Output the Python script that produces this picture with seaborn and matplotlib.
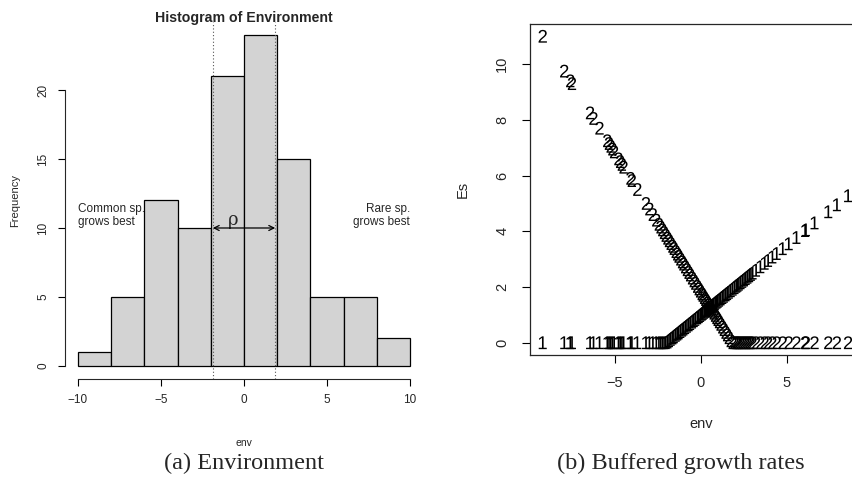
import numpy as np
import pandas as pd
import matplotlib
matplotlib.use("Agg")
import matplotlib.pyplot as plt
import seaborn as sns

# ---- data ----
env = [-9.2,
       -7.95, -7.6, -7.5, -6.45, -6.25,
       -5.9, -5.45, -5.35, -5.25, -5.15, -5.05, -4.8, -4.7, -4.6, -4.5, -4.1, -4.02,
       -3.7, -3.2, -3.0, -2.8, -2.6, -2.45, -2.35, -2.25, -2.15, -2.05,
       -1.95, -1.86, -1.76, -1.66, -1.58, -1.47, -1.38, -1.3, -1.2, -1.1, -1.02,
       -0.92, -0.82, -0.72, -0.63, -0.52, -0.42, -0.33, -0.22, -0.13, -0.05,
       0.04, 0.1, 0.18, 0.25, 0.31, 0.38, 0.45, 0.52, 0.6, 0.67, 0.74, 0.82,
       0.9, 0.97, 1.05, 1.14, 1.24, 1.33, 1.43, 1.52, 1.62, 1.73, 1.84, 1.95,
       2.05, 2.12, 2.2, 2.3, 2.4, 2.5, 2.6, 2.7, 2.8, 2.9, 3.0, 3.2, 3.45, 3.7, 3.9,
       4.15, 4.4, 4.75, 5.1, 5.55,
       6.05, 6.1, 6.6, 7.4, 7.9,
       8.55, 9.3]

es_sp1 = [0.0,
          0.0, 0.0, 0.0, 0.0, 0.0,
          0.0, 0.0, 0.0, 0.0, 0.0, 0.0, 0.0, 0.0, 0.0, 0.0, 0.0, 0.0,
          0.0, 0.0, 0.0, 0.0, 0.0, 0.0, 0.0, 0.0, 0.0, 0.0,
          0.025, 0.07, 0.12, 0.17, 0.21, 0.265, 0.31, 0.35, 0.4, 0.45, 0.49,
          0.54, 0.59, 0.64, 0.685, 0.74, 0.79, 0.835, 0.89, 0.935, 0.975,
          1.02, 1.05, 1.09, 1.125, 1.155, 1.19, 1.225, 1.26, 1.3, 1.335, 1.37, 1.41,
          1.45, 1.485, 1.525, 1.57, 1.62, 1.665, 1.715, 1.76, 1.81, 1.865, 1.92, 1.975,
          2.025, 2.06, 2.1, 2.15, 2.2, 2.25, 2.3, 2.35, 2.4, 2.45, 2.5, 2.6, 2.725, 2.85, 2.95,
          3.075, 3.2, 3.375, 3.55, 3.775,
          4.025, 4.05, 4.3, 4.7, 4.95,
          5.275, 5.65]

es_sp2 = [11.0,
          9.75, 9.4, 9.3, 8.25, 8.05,
          7.7, 7.25, 7.15, 7.05, 6.95, 6.85, 6.6, 6.5, 6.4, 6.3, 5.9, 5.82,
          5.5, 5.0, 4.8, 4.6, 4.4, 4.25, 4.15, 4.05, 3.95, 3.85,
          3.75, 3.66, 3.56, 3.46, 3.38, 3.27, 3.18, 3.1, 3.0, 2.9, 2.82,
          2.72, 2.62, 2.52, 2.43, 2.32, 2.22, 2.13, 2.02, 1.93, 1.85,
          1.76, 1.7, 1.62, 1.55, 1.49, 1.42, 1.35, 1.28, 1.2, 1.13, 1.06, 0.98,
          0.9, 0.83, 0.75, 0.66, 0.56, 0.47, 0.37, 0.28, 0.18, 0.07, 0.0, 0.0,
          0.0, 0.0, 0.0, 0.0, 0.0, 0.0, 0.0, 0.0, 0.0, 0.0, 0.0, 0.0, 0.0, 0.0, 0.0,
          0.0, 0.0, 0.0, 0.0, 0.0,
          0.0, 0.0, 0.0, 0.0, 0.0,
          0.0, 0.0]

bin_edges = [-10, -8, -6, -4, -2, 0, 2, 4, 6, 8, 10]
rho_edges = [-1.88, 1.88]
hist_xticks = [-10, -5, 0, 5, 10]
hist_yticks = [0, 5, 10, 15, 20]
sc_xticks = [-5, 0, 5]
sc_yticks = [0, 2, 4, 6, 8, 10]

# ---- style ----
sns.set_style("ticks")
plt.rcParams["font.family"] = ["Liberation Sans", "DejaVu Sans"]
plt.rcParams["mathtext.fontset"] = "custom"
plt.rcParams["mathtext.rm"] = "Liberation Sans"
plt.rcParams["axes.unicode_minus"] = True

W, H = 852, 490
fig = plt.figure(figsize=(W / 100, H / 100), dpi=100)

def box(l, t, r, b):
    return [l / W, 1 - b / H, (r - l) / W, (b - t) / H]

# ---------------- left: histogram ----------------
ax1 = fig.add_axes(box(64.7, 21.6, 423.3, 379.2))
sns.histplot(x=env, bins=bin_edges, ax=ax1, color="#D3D3D3", edgecolor="black",
             linewidth=0.9, alpha=1.0)
ax1.set_xlim(-10.8, 10.8)
ax1.set_ylim(-0.96, 24.96)
for s in ["top", "right"]:
    ax1.spines[s].set_visible(False)
ax1.spines["left"].set_bounds(0, 20)
ax1.spines["bottom"].set_bounds(-10, 10)
for s in ["left", "bottom"]:
    ax1.spines[s].set_linewidth(0.8)
ax1.set_xticks(hist_xticks)
ax1.set_yticks(hist_yticks)
ax1.tick_params(axis="both", length=5, width=0.8, labelsize=8.5, color="black")
ax1.tick_params(axis="x", pad=6)
ax1.tick_params(axis="y", pad=6)
for lab in ax1.get_yticklabels():
    lab.set_rotation(90)
    lab.set_va("center")
for v in rho_edges:
    ax1.axvline(v, color="#555555", linestyle=(0, (1, 2)), linewidth=0.8, zorder=3)
ax1.annotate("", xy=(rho_edges[0], 10), xytext=(rho_edges[1], 10),
             arrowprops=dict(arrowstyle="<->", lw=0.9, color="black",
                             mutation_scale=9, shrinkA=0, shrinkB=0), zorder=4)
ax1.text(-0.68, 10.6, "ρ", fontsize=13, family="DejaVu Serif", ha="center", va="center")
ax1.text(-10, 10.9, "Common sp.\ngrows best", fontsize=8.5, ha="left", va="center",
         linespacing=1.05)
ax1.text(10, 10.9, "Rare sp.\ngrows best", fontsize=8.5, ha="right", va="center",
         linespacing=1.05)
ax1.set_xlabel("env", fontsize=7.5)
ax1.set_ylabel("Frequency", fontsize=8)
ax1.xaxis.label.set_va("center")
ax1.yaxis.label.set_va("center")
ax1.xaxis.set_label_coords(0.5, (379.2 - 443) / 357.6)
ax1.yaxis.set_label_coords((15 - 64.7) / 358.6, 0.5)
ax1.text(0.5, (379.2 - 18) / 357.6, "Histogram of Environment", transform=ax1.transAxes,
         ha="center", va="center", fontsize=10.2, fontweight="bold")

# ---------------- right: scatter with text markers ----------------
ax2 = fig.add_axes(box(530, 24, 873.7, 355))
df = pd.DataFrame({"env": env + env,
                   "Es": es_sp1 + es_sp2,
                   "sp": ["1"] * len(env) + ["2"] * len(env)})
sns.scatterplot(data=df, x="env", y="Es", style="sp",
                markers={"1": r"$\mathrm{1}$", "2": r"$\mathrm{2}$"},
                color="black", s=85, linewidth=0, legend=False, ax=ax2)
ax2.set_xlim(-9.94, 10.04)
ax2.set_ylim(-0.44, 11.44)
ax2.set_xticks(sc_xticks)
ax2.set_yticks(sc_yticks)
for s in ax2.spines.values():
    s.set_linewidth(0.9)
ax2.tick_params(axis="both", length=6, width=0.8, labelsize=10.5, color="black")
ax2.tick_params(axis="x", pad=9)
ax2.tick_params(axis="y", pad=9)
for lab in ax2.get_yticklabels():
    lab.set_rotation(90)
    lab.set_va("center")
ax2.set_xlabel("env", fontsize=10.5)
ax2.set_ylabel("Es", fontsize=10.5)
ax2.xaxis.label.set_va("center")
ax2.yaxis.label.set_va("center")
ax2.xaxis.set_label_coords(0.4975, (355 - 424) / 331)
ax2.yaxis.set_label_coords((463 - 530) / 343.7, 0.5)

# ---------------- captions ----------------
fig.text(244 / W, 1 - 463 / H, "(a) Environment", family="Liberation Serif",
         fontsize=17.5, ha="center", va="center")
fig.text(681 / W, 1 - 463 / H, "(b) Buffered growth rates", family="Liberation Serif",
         fontsize=17.5, ha="center", va="center")

fig.savefig("out.png", dpi=100)
